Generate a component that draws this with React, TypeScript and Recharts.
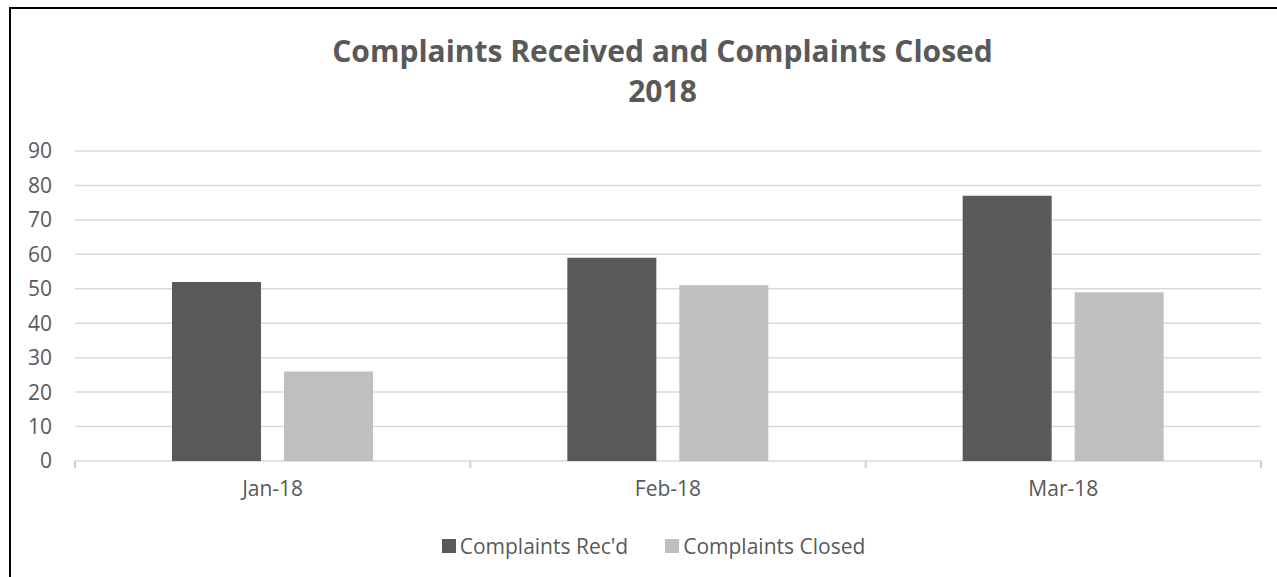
import { Bar, BarChart, CartesianGrid, Legend, XAxis, YAxis } from "recharts";

const months = ["Jan-18", "Feb-18", "Mar-18"];
const received = [52, 59, 77];
const closed = [26, 51, 49];
const yTicks = [0, 10, 20, 30, 40, 50, 60, 70, 80, 90];
const seriesNames = ["Complaints Rec'd", "Complaints Closed"];

const data = months.map((month, i) => ({
  month,
  received: received[i],
  closed: closed[i],
}));

const FONT = "'Open Sans', sans-serif";
const TEXT = "#595959";
const GRID = "#d9d9d9";

function LegendRow({ payload }: { payload?: any[] }) {
  const items = [...(payload || [])].sort(
    (a, b) => seriesNames.indexOf(a.value) - seriesNames.indexOf(b.value)
  );
  return (
    <div
      style={{
        display: "flex",
        justifyContent: "center",
        alignItems: "center",
        gap: 37,
        height: 30,
        fontFamily: FONT,
        fontSize: 21,
        color: TEXT,
      }}
    >
      {items.map((entry) => (
        <div key={entry.value} style={{ display: "flex", alignItems: "center", gap: 4 }}>
          <span style={{ width: 14, height: 14, background: entry.color, display: "inline-block" }} />
          <span>{entry.value}</span>
        </div>
      ))}
    </div>
  );
}

// label at the band centre, tick marks on the band edges (like Excel)
function MonthTick(props: any) {
  const { x, y, payload, index, visibleTicksCount } = props;
  const half = payload.offset || 0;
  const last = index === visibleTicksCount - 1;
  return (
    <g>
      <line x1={x - half} x2={x - half} y1={y} y2={y + 7} stroke="#cfcfcf" strokeWidth={2} />
      {last && <line x1={x + half} x2={x + half} y1={y} y2={y + 7} stroke="#cfcfcf" strokeWidth={2} />}
      <text x={x} y={y + 20} dy="0.71em" textAnchor="middle" fill={TEXT} fontSize={21} fontFamily={FONT}>
        {payload.value}
      </text>
    </g>
  );
}

export default function App() {
  return (
    <div style={{ position: "absolute", left: 0, top: 0, width: 1277, height: 577, overflow: "hidden", background: "#fff" }}>
      <div
        style={{
          position: "absolute",
          left: 9,
          top: 7,
          width: 1400,
          height: 700,
          borderLeft: "2px solid #000",
          borderTop: "2px solid #000",
        }}
      />
      <div
        style={{
          position: "absolute",
          left: 0,
          top: 31,
          width: 1325,
          textAlign: "center",
          fontFamily: FONT,
          fontWeight: 700,
          fontSize: 30,
          lineHeight: "40px",
          color: TEXT,
        }}
      >
        Complaints Received and Complaints Closed
        <br />
        2018
      </div>
      <div style={{ position: "absolute", left: 0, top: 0 }}>
        <BarChart
          width={1277}
          height={577}
          data={data}
          margin={{ top: 151, right: 16, left: 0, bottom: 46 }}
          barSize={89}
          barGap={23}
        >
          <CartesianGrid vertical={false} stroke={GRID} strokeWidth={1.5} />
          <XAxis
            dataKey="month"
            height={40}
            tickSize={0}
            tickMargin={0}
            interval={0}
            axisLine={false}
            tickLine={false}
            tick={MonthTick}
          />
          <YAxis
            width={75}
            domain={[0, 90]}
            ticks={yTicks}
            axisLine={false}
            tickLine={false}
            tickSize={0}
            tickMargin={23}
            tick={{ fill: TEXT, fontSize: 21, fontFamily: FONT }}
          />
          <Legend
            content={<LegendRow />}
            wrapperStyle={{ position: "absolute", top: 531, left: 0, width: 1307, height: 30 }}
          />
          <Bar dataKey="received" name={seriesNames[0]} fill="#595959" isAnimationActive={false} />
          <Bar dataKey="closed" name={seriesNames[1]} fill="#bfbfbf" isAnimationActive={false} />
        </BarChart>
      </div>
    </div>
  );
}
